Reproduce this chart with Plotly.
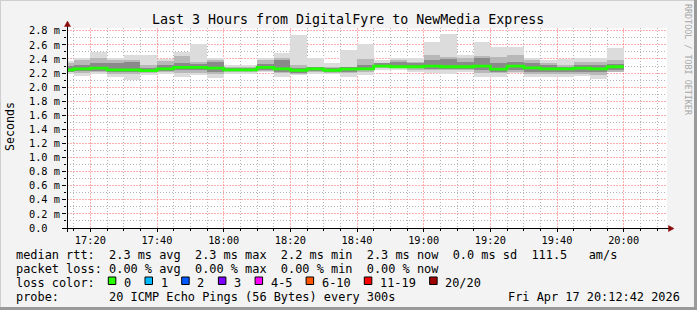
import pandas as pd
import plotly.graph_objects as go

# ---------------- data ----------------
first_bar_end = "2026-04-17 17:15"
step_min = 5
rtt_max = [2.37, 2.42, 2.50, 2.41, 2.46, 2.46, 2.40, 2.50, 2.61, 2.41, 2.32, 2.31, 2.41, 2.49, 2.74, 2.41, 2.34,
           2.53, 2.61, 2.38, 2.42, 2.41, 2.64, 2.76, 2.46, 2.64, 2.57, 2.57, 2.41, 2.39, 2.40, 2.42, 2.42, 2.56]
rtt_hi2 = [2.34, 2.39, 2.41, 2.39, 2.39, 2.32, 2.37, 2.44, 2.36, 2.38, 2.29, 2.29, 2.38, 2.41, 2.32, 2.29, 2.29,
           2.29, 2.40, 2.35, 2.39, 2.36, 2.45, 2.43, 2.41, 2.44, 2.43, 2.46, 2.38, 2.34, 2.31, 2.36, 2.36, 2.38]
rtt_hi3 = [2.30, 2.32, 2.34, 2.35, 2.36, 2.27, 2.31, 2.34, 2.33, 2.36, 2.27, 2.27, 2.33, 2.38, 2.27, 2.28, 2.27,
           2.28, 2.32, 2.34, 2.36, 2.34, 2.39, 2.40, 2.36, 2.41, 2.34, 2.36, 2.34, 2.31, 2.29, 2.31, 2.31, 2.33]
rtt_median = [2.245, 2.26, 2.27, 2.245, 2.245, 2.235, 2.26, 2.28, 2.28, 2.27, 2.245, 2.245, 2.28, 2.26, 2.24, 2.26, 2.24,
              2.255, 2.26, 2.30, 2.29, 2.29, 2.30, 2.29, 2.29, 2.30, 2.255, 2.30, 2.275, 2.26, 2.26, 2.27, 2.26, 2.29]
rtt_lo3 = [2.22, 2.23, 2.23, 2.22, 2.21, 2.21, 2.23, 2.24, 2.24, 2.22, 2.23, 2.23, 2.25, 2.22, 2.20, 2.23, 2.22,
           2.22, 2.24, 2.28, 2.28, 2.27, 2.26, 2.26, 2.26, 2.25, 2.21, 2.25, 2.22, 2.21, 2.22, 2.22, 2.22, 2.25]
rtt_lo2 = [2.21, 2.20, 2.21, 2.18, 2.18, 2.20, 2.21, 2.20, 2.20, 2.18, 2.21, 2.22, 2.225, 2.20, 2.19, 2.22, 2.20,
           2.20, 2.22, 2.27, 2.27, 2.25, 2.24, 2.24, 2.24, 2.20, 2.20, 2.22, 2.18, 2.18, 2.18, 2.19, 2.17, 2.22]
rtt_min = [2.19, 2.16, 2.18, 2.14, 2.10, 2.175, 2.19, 2.15, 2.175, 2.13, 2.19, 2.19, 2.21, 2.15, 2.175, 2.19, 2.19,
           2.15, 2.175, 2.24, 2.24, 2.21, 2.20, 2.19, 2.21, 2.15, 2.15, 2.20, 2.15, 2.15, 2.15, 2.16, 2.12, 2.21]

y_ticks = [0.0, 0.2, 0.4, 0.6, 0.8, 1.0, 1.2, 1.4, 1.6, 1.8, 2.0, 2.2, 2.4, 2.6, 2.8]
y_labels = ["0.0\u00a0\u00a0", "0.2 m", "0.4 m", "0.6 m", "0.8 m", "1.0 m", "1.2 m", "1.4 m", "1.6 m",
            "1.8 m", "2.0 m", "2.2 m", "2.4 m", "2.6 m", "2.8 m"]
y_minor_ticks = [0.1, 0.3, 0.5, 0.7, 0.9, 1.1, 1.3, 1.5, 1.7, 1.9, 2.1, 2.3, 2.5, 2.7]
x_tick_times = ["2026-04-17 17:20", "2026-04-17 17:40", "2026-04-17 18:00", "2026-04-17 18:20",
                "2026-04-17 18:40", "2026-04-17 19:00", "2026-04-17 19:20", "2026-04-17 19:40",
                "2026-04-17 20:00"]
x_tick_labels = ["17:20", "17:40", "18:00", "18:20", "18:40", "19:00", "19:20", "19:40", "20:00"]
x_range = ["2026-04-17 17:13", "2026-04-17 20:13"]
y_range = [0, 2.84]

title = "Last 3 Hours from DigitalFyre to NewMedia Express"
rtt_stats = ["2.3 ms avg", "2.3 ms max", "2.2 ms min", "2.3 ms now", "0.0 ms sd", "111.5   am/s"]
loss_stats = ["0.00 % avg", "0.00 % max", "0.00 % min", "0.00 % now"]
loss_labels = ["0", "1", "2", "3", "4-5", "6-10", "11-19", "20/20"]
loss_colors = ["#26ff00", "#00b8ff", "#0059ff", "#7e00ff", "#ff00ff", "#ff5500", "#ff0000", "#a10000"]
probe_text = "20 ICMP Echo Pings (56 Bytes) every 300s"
stamp_text = "Fri Apr 17 20:12:42 2026"
watermark = "RRDTOOL / TOBI OETIKER"

# ---------------- geometry helpers ----------------
W, H = 697, 310
L, R, T, B = 67, 30, 28, 82
PW, PH = W - L - R, H - T - B


def px(x):
    return (x - L) / PW


def py(y):
    return (T + PH - y) / PH


n = len(rtt_median)
ends = pd.date_range(first_bar_end, periods=n, freq=f"{step_min}min")
step = pd.Timedelta(minutes=step_min)
centers = ends - step / 2
starts = ends - step
width_ms = step.total_seconds() * 1000

# 5-minute minor grid times (excluding the 20-minute major ones)
x_minor_ticks = [t.strftime("%Y-%m-%d %H:%M") for t in
                 pd.date_range("2026-04-17 17:15", "2026-04-17 20:10", freq="5min") if t.minute % 20 != 0]

fig = go.Figure()


def smoke(lo, hi, color):
    fig.add_trace(go.Bar(
        x=centers, base=lo, y=[h - l for h, l in zip(hi, lo)], width=width_ms,
        marker=dict(color=color, line=dict(width=0)), hoverinfo="skip", showlegend=False))


smoke(rtt_min, rtt_max, "#dcdcdc")
smoke(rtt_lo2, rtt_hi2, "#b8b8b8")
smoke(rtt_lo3, rtt_hi3, "#8a8a8a")

step_x = list(starts) + [ends[-1]]
step_y = list(rtt_median) + [rtt_median[-1]]
fig.add_trace(go.Scatter(x=step_x, y=step_y, mode="lines",
                         line=dict(color="#20ff00", width=2.8, shape="hv"),
                         hoverinfo="skip", showlegend=False))

MONO = "DejaVu Sans Mono"
grid_major = "rgba(255,110,110,0.55)"
grid_minor = "#b4b4b4"

fig.update_layout(
    width=W, height=H, margin=dict(l=L, r=R, t=T, b=B, autoexpand=False),
    paper_bgcolor="#f3f3f3", plot_bgcolor="#ffffff", barmode="overlay", bargap=0,
    font=dict(family=MONO, size=10, color="#000000"),
    xaxis=dict(type="date", range=x_range, tickmode="array", tickvals=x_tick_times, ticktext=x_tick_labels,
               showgrid=True, gridcolor=grid_major, griddash="2px,1px", gridwidth=1,
               ticks="outside", ticklen=3, tickcolor="#000000", showline=False, zeroline=False,
               tickfont=dict(family=MONO, size=10.3, color="#000000"),
               minor=dict(tickmode="array", tickvals=x_minor_ticks, showgrid=True, gridcolor=grid_minor,
                          griddash="1px,2px", gridwidth=1, ticks="outside", ticklen=2, tickcolor="#000000")),
    yaxis=dict(range=y_range, tickmode="array", tickvals=y_ticks, ticktext=y_labels,
               showgrid=True, gridcolor=grid_major, griddash="2px,1px", gridwidth=1,
               ticks="outside", ticklen=4, tickcolor="#000000", showline=False, zeroline=False,
               tickfont=dict(family=MONO, size=10.3, color="#000000"),
               minor=dict(tickmode="array", tickvals=y_minor_ticks, showgrid=True, gridcolor=grid_minor,
                          griddash="1px,2px", gridwidth=1, ticks="outside", ticklen=2, tickcolor="#000000")),
)

shapes = []
# frame (3D border)
shapes.append(dict(type="line", xref="paper", yref="paper", x0=px(0), x1=px(W), y0=py(0.5), y1=py(0.5),
                   line=dict(color="#cfcfcf", width=1)))
shapes.append(dict(type="line", xref="paper", yref="paper", x0=px(0.5), x1=px(0.5), y0=py(0), y1=py(H),
                   line=dict(color="#cfcfcf", width=1)))
shapes.append(dict(type="line", xref="paper", yref="paper", x0=px(695.5), x1=px(695.5), y0=py(0), y1=py(H),
                   line=dict(color="#9a9a9a", width=3)))
shapes.append(dict(type="line", xref="paper", yref="paper", x0=px(0), x1=px(W), y0=py(308.5), y1=py(308.5),
                   line=dict(color="#9a9a9a", width=3)))
# axes
shapes.append(dict(type="line", xref="paper", yref="paper", x0=px(63), x1=px(669), y0=py(228.5), y1=py(228.5),
                   line=dict(color="#000000", width=1)))
shapes.append(dict(type="line", xref="paper", yref="paper", x0=px(67.5), x1=px(67.5), y0=py(232), y1=py(26),
                   line=dict(color="#000000", width=1)))


def tri(pts):
    d = "M " + " L ".join(f"{px(a):.5f},{py(b):.5f}" for a, b in pts) + " Z"
    return dict(type="path", xref="paper", yref="paper", path=d, fillcolor="#8b0a0a",
                line=dict(color="#8b0a0a", width=0.5))


shapes.append(tri([(668.5, 225.5), (674, 228.5), (668.5, 231.5)]))
shapes.append(tri([(64.5, 26.5), (67.5, 21), (70.5, 26.5)]))

annotations = []


def text(x, y, s, size=11.9, anchor="left", color="#000000", angle=0):
    annotations.append(dict(xref="paper", yref="paper", x=px(x), y=py(y), text=s.replace(" ", "\u00a0"),
                            showarrow=False, xanchor=anchor, yanchor="middle", borderpad=0, textangle=angle,
                            font=dict(family=MONO, size=size, color=color)))


text(348, 19, title, size=13.3, anchor="center")
text(10, 127, "Seconds", size=11.6, anchor="center", angle=-90)
text(688, 60, watermark, size=8.4, anchor="center", color="#a8a8a8", angle=90)

CW = 7.16
x0 = 15
text(x0, 254.5, "median rtt:  " + "  ".join(rtt_stats))
text(x0, 268.5, "packet loss: " + "  ".join(loss_stats))
text(x0, 282.5, "loss color:")
sq_left = 108.3
for lab, col in zip(loss_labels, loss_colors):
    shapes.append(dict(type="rect", xref="paper", yref="paper", x0=px(sq_left), x1=px(sq_left + 7.5),
                       y0=py(284.5), y1=py(277), fillcolor=col, line=dict(color="#000000", width=1)))
    text(sq_left + 14.6, 282.5, lab)
    sq_left += 36.7 + (len(lab) - 1) * CW
text(x0, 296.5, "probe:       " + probe_text)
text(681, 296.5, stamp_text, anchor="right")

fig.update_layout(shapes=shapes, annotations=annotations)
fig.write_html("out.html")
